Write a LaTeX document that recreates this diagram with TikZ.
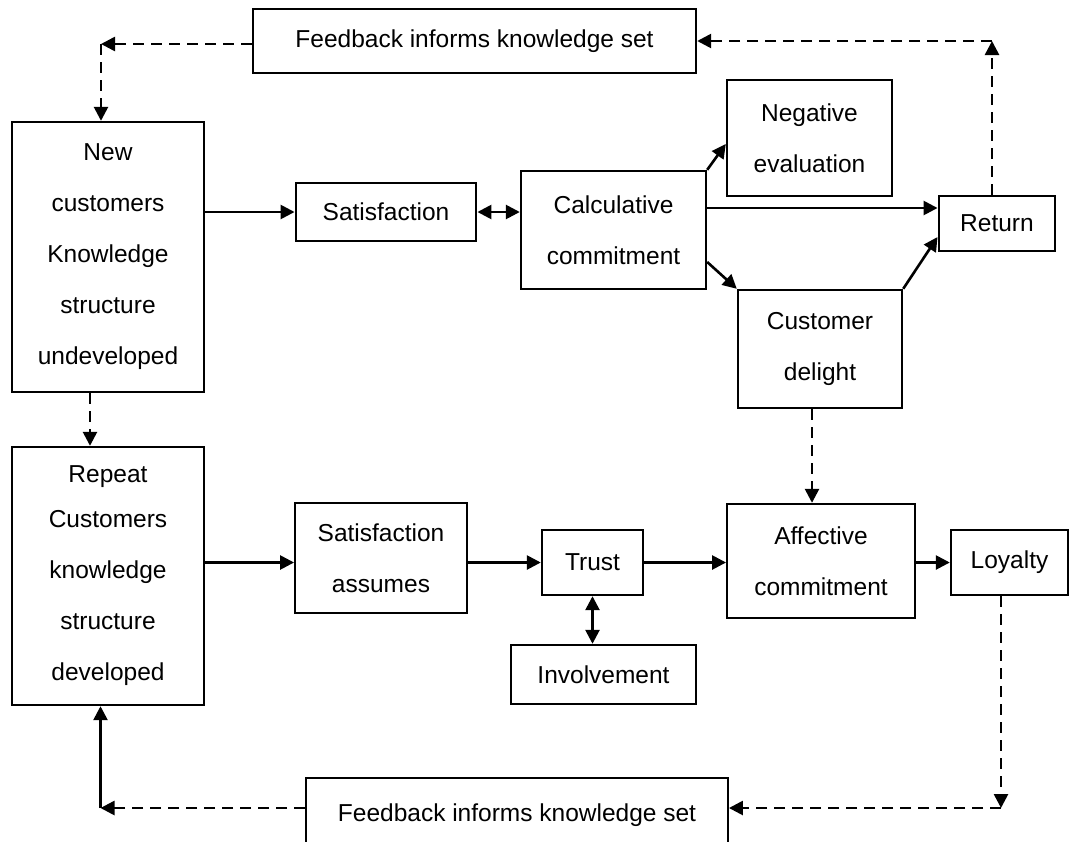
\documentclass[tikz,border=0pt]{standalone}
\usepackage{fontspec}
\setmainfont{Liberation Sans}
\usetikzlibrary{shapes,arrows.meta}

\begin{document}
\begin{tikzpicture}[x=1pt,y=-1pt]
\tikzstyle{blk}=[draw,line width=2.4pt,inner sep=0pt,align=center,font=\fontsize{24.5}{51}\selectfont]
\tikzstyle{arr}=[line width=2.6pt,-{Triangle[length=14pt,width=14pt]}]
\tikzstyle{darr}=[arr,dash pattern=on 11pt off 7pt]
\tikzstyle{dbl}=[line width=2.6pt,{Triangle[length=14pt,width=14pt]}-{Triangle[length=14pt,width=14pt]}]
\useasboundingbox (0,0) rectangle (1070,841);
\clip (0,0) rectangle (1070,841);

\node[blk,minimum width=443pt,minimum height=64pt] (fbtop) at (474.5,41) {Feedback informs knowledge set};
\node[blk,minimum width=192.5pt,minimum height=270pt] (newc) at (108,257) {New\\customers\\Knowledge\\structure\\undeveloped};
\node[blk,minimum width=180.5pt,minimum height=58pt] (sat) at (386,212) {\raisebox{-4pt}{Satisfaction}};
\node[blk,minimum width=185pt,minimum height=118pt] (calc) at (613.5,230) {Calculative\\commitment};
\node[blk,minimum width=165pt,minimum height=116pt] (neg) at (809.5,138) {Negative\\evaluation};
\node[blk,minimum width=116.5pt,minimum height=55pt] (ret) at (997,223.5) {\raisebox{-3pt}{Return}};
\node[blk,minimum width=164pt,minimum height=118pt] (delight) at (820,349) {Customer\\delight};
\node[blk,minimum width=192.5pt,minimum height=258pt] (rep) at (108,576) {\raisebox{-6pt}{Repeat}\\Customers\\knowledge\\structure\\developed};
\node[blk,minimum width=171.5pt,minimum height=110pt] (sata) at (381,558) {Satisfaction\\assumes};
\node[blk,minimum width=101pt,minimum height=65pt] (trust) at (592.5,562.5) {Trust};
\node[blk,minimum width=185pt,minimum height=59pt] (inv) at (603.5,674.5) {\raisebox{-2pt}{Involvement}};
\node[blk,minimum width=187.5pt,minimum height=114pt] (aff) at (821,561) {Affective\\commitment};
\node[blk,minimum width=117pt,minimum height=65pt] (loy) at (1009.5,562.5) {Loyalty};
\node[blk,minimum width=421.5pt,minimum height=74pt] (fbbot) at (517,815) {Feedback informs knowledge set};

\coordinate (c1) at (101,44);
\coordinate (c2) at (992,41);
\coordinate (c3) at (1001,808);
\coordinate (c4) at (100.5,808);
\coordinate (r1) at ([yshift=15.5pt]ret.west);

\draw[darr] (fbtop.west |- c1) -- (c1);
\draw[darr] (c1) -- (c1 |- newc.north);
\draw[arr] (sat.west -| newc.east) -- (sat.west);
\draw[dbl] (sat.east) -- (sat.east -| calc.west);
\draw[arr] (calc.north east) -- ([yshift=-6pt]neg.west);
\draw[arr] (r1 -| calc.east) -- (r1);
\draw[arr] ([yshift=-32pt]calc.east) -- (delight.north west);
\draw[arr] (delight.north east) -- ([yshift=-13.5pt]ret.west);
\draw[darr] (c2 |- ret.north) -- (c2);
\draw[darr] (c2) -- (c2 -| fbtop.east);
\draw[darr] ([xshift=-18pt]newc.south) -- ([xshift=-18pt]rep.north);
\draw[arr] (trust.west -| rep.east) -- (trust.west -| sata.west);
\draw[arr] (trust.west -| sata.east) -- (trust.west);
\draw[arr] (trust.east) -- (trust.east -| aff.west);
\draw[arr] (loy.west -| aff.east) -- (loy.west);
\draw[dbl] (trust.south) -- (trust.south |- inv.north);
\draw[darr] ([xshift=-8pt]delight.south) -- ([xshift=-8pt]delight.south |- aff.north);
\draw[darr] (c3 |- loy.south) -- (c3);
\draw[darr] (c3) -- (c3 -| fbbot.east);
\draw[darr] (c4 -| fbbot.west) -- (c4);
\draw[arr] (c4) -- (c4 |- rep.south);
\end{tikzpicture}
\end{document}
